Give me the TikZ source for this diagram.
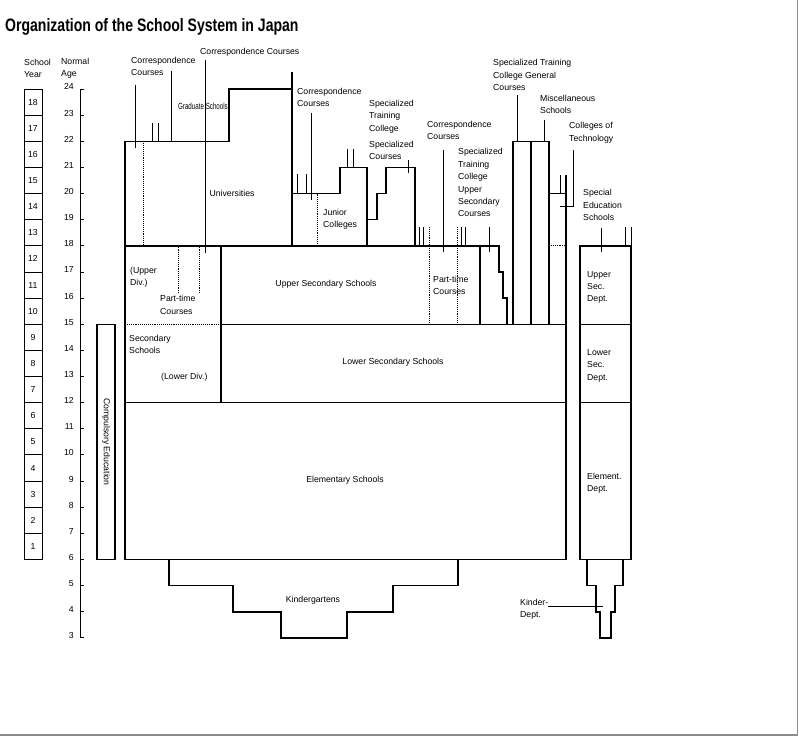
\documentclass[tikz,border=0pt]{standalone}
\usepackage{fontspec}
\setmainfont{Liberation Sans}
\usepackage{graphicx}
\usetikzlibrary{positioning}
\tikzset{
  boxline/.style={line width=1.35pt,line join=miter},
  stub/.style={line width=0.85pt},
  dotline/.style={line width=0.9pt,densely dotted},
  lab/.style={font=\fontsize{8.7}{12.4}\selectfont,inner sep=0pt,align=left},
}
\newcommand{\narrow}[2]{\scalebox{#1}[1]{#2}}

\begin{document}
\begin{tikzpicture}[x=1pt,y=26.14pt]
  \useasboundingbox (0,-0.903) rectangle (799,27.406);
  \draw[black!45,line width=1.5pt] (797.5,27.406) -- (797.5,-0.72) -- (0,-0.72);

  \node[anchor=west,inner sep=0pt] (title) at (5,26.37)
    {\narrow{0.78}{\fontsize{18}{20}\selectfont\bfseries Organization of the School System in Japan}};

  % scales on the left
  \node[lab,anchor=west] (syear) at (24,24.80) {School\\Year};
  \node[lab,anchor=west] (nage) at (61,24.80) {Normal\\Age};
  \draw[line width=1pt] (84,24) -- (80,24) -- (80,3) -- (84,3);
  \foreach \a in {3,...,24} {
    \draw[line width=1pt] (80,\a) -- (83.5,\a);
    \node[lab,anchor=east] (age\a) at (74,\a+0.08) {\a};
  }
  \foreach \n in {1,...,18} {
    \node[draw,line width=1pt,minimum width=18pt,minimum height=26.14pt,inner sep=0pt,
          font=\fontsize{8.7}{10}\selectfont] (yr\n) at (33,\n+5.5) {\n};
  }
  \draw[boxline] (97,6) rectangle (115,15);
  \node[lab,rotate=-90] (comp) at (106,10.5) {Compulsory Education};

  % main blocks
  \draw[boxline] (125,6) rectangle (566,12);
  \draw[boxline] (125,12) -- (125,22) -- (229,22) -- (229,24) -- (292,24);
  \draw[boxline] (292,24.65) -- (292,18);
  \draw[boxline] (125,18) -- (499,18) -- (499,17) -- (503,17) -- (503,16) -- (507,16) -- (507,15);
  \draw[boxline] (221,18) -- (221,12);
  \draw[boxline] (221,15) -- (566,15);
  \draw[dotline] (125,15) -- (221,15);
  \draw[boxline] (480,18) -- (480,15);
  \draw[boxline] (292,20) -- (340,20) -- (340,21) -- (367,21) -- (367,18);
  \draw[boxline] (367,19) -- (377,19) -- (377,20) -- (386,20) -- (386,21) -- (415,21) -- (415,18);
  \draw[boxline] (513,15) -- (513,22) -- (549,22) -- (549,15);
  \draw[boxline] (531,15) -- (531,22);
  \draw[boxline] (549,20) -- (566,20);
  \draw[boxline] (566,20.7) -- (566,12);
  \draw[dotline] (549,18) -- (566,18);
  \draw[boxline] (169,6) -- (169,5) -- (233,5) -- (233,4) -- (281,4) -- (281,3)
    -- (347,3) -- (347,4) -- (393,4) -- (393,5) -- (458,5) -- (458,6);

  % special education
  \draw[boxline] (580,6) rectangle (631,18);
  \draw[boxline] (580,12) -- (631,12);
  \draw[boxline] (580,15) -- (631,15);
  \draw[boxline] (587,6) -- (587,5) -- (596,5) -- (596,4) -- (600,4) -- (600,3)
    -- (611,3) -- (611,4) -- (615,4) -- (615,5) -- (623,5) -- (623,6);

  \foreach \x/\t in {143/22, 178/16.19, 199/16.19, 317/20} \draw[dotline] (\x,\t) -- (\x,18);
  \foreach \x in {429,457} \draw[dotline] (\x,18.72) -- (\x,15);
  \foreach \x/\t/\b in {135/24.15/21.74, 152/22.7/22, 158/22.7/22, 171/24.69/22,
      205/25.11/17.73, 297/20.74/20, 306/20.74/20, 311/23.09/19.76, 347/21.71/21,
      353/21.71/21, 408/21.29/20.79, 419/18.72/18, 423/18.72/18, 443/21.67/17.77,
      461/18.72/18, 465/18.72/18, 489/18.72/17.77, 517/23.77/22, 544/22.82/22,
      560/20.71/20, 601/18.69/17.77, 625/18.72/18, 631/18.72/18}
    \draw[stub] (\x,\t) -- (\x,\b);
  \draw[stub] (573,21.67) -- (573,19.49) -- (560,19.49);
  \draw[stub] (548,4.22) -- (603,4.22);

  % labels
  \node[lab,anchor=west] (corrtop) at (200,25.42) {Correspondence Courses};
  \node[lab,anchor=west] (corruni) at (131,24.86) {Correspondence\\Courses};
  \node[lab] (grad) at (203,23.33)
    {\narrow{0.69}{\fontsize{9}{10}\selectfont Graduate Schools}};
  \node[lab] (uni) at (232,20) {Universities};
  \node[lab,anchor=west] (corrjc) at (297,23.68) {Correspondence\\Courses};
  \node[lab,anchor=west] (jc) at (323,19.01) {Junior\\Colleges};
  \node[lab,anchor=west] (stc) at (369,22.95) {Specialized\\Training\\College};
  \node[lab,anchor=west] (stcspec) at (369,21.65) {Specialized\\Courses};
  \node[lab,anchor=west] (corrup) at (427,22.41) {Correspondence\\Courses};
  \node[lab,anchor=west] (stcup) at (458,20.41)
    {Specialized\\Training\\College\\Upper\\Secondary\\Courses};
  \node[lab,anchor=west] (stcgen) at (493,24.54)
    {Specialized Training\\College General\\Courses};
  \node[lab,anchor=west] (misc) at (540,23.41) {Miscellaneous\\Schools};
  \node[lab,anchor=west] (ctech) at (569,22.32) {Colleges of\\Technology};
  \node[lab,anchor=west] (sped) at (583,19.56) {Special\\Education\\Schools};
  \node[lab,anchor=west] (updiv) at (130,16.81) {(Upper\\Div.)};
  \node[lab,anchor=west] (ptleft) at (160,15.74) {Part-time\\Courses};
  \node[lab] (uss) at (326,16.54) {Upper Secondary Schools};
  \node[lab,anchor=west] (ptright) at (433,16.48) {Part-time\\Courses};
  \node[lab,anchor=west] (secsch) at (129,14.23) {Secondary\\Schools};
  \node[lab,anchor=west] (lowdiv) at (161,12.98) {(Lower Div.)};
  \node[lab] (lss) at (393,13.55) {Lower Secondary Schools};
  \node[lab] (elem) at (345,9.04) {Elementary Schools};
  \node[lab] (kg) at (313,4.45) {Kindergartens};
  \node[lab,anchor=west] (kdept) at (520,4.09) {Kinder-\\Dept.};
  \node[lab,anchor=west] (usdept) at (587,16.41) {Upper\\Sec.\\Dept.};
  \node[lab,anchor=west] (lsdept) at (587,13.42) {Lower\\Sec.\\Dept.};
  \node[lab,anchor=west] (eldept) at (587,8.93) {Element.\\Dept.};
\end{tikzpicture}
\end{document}
